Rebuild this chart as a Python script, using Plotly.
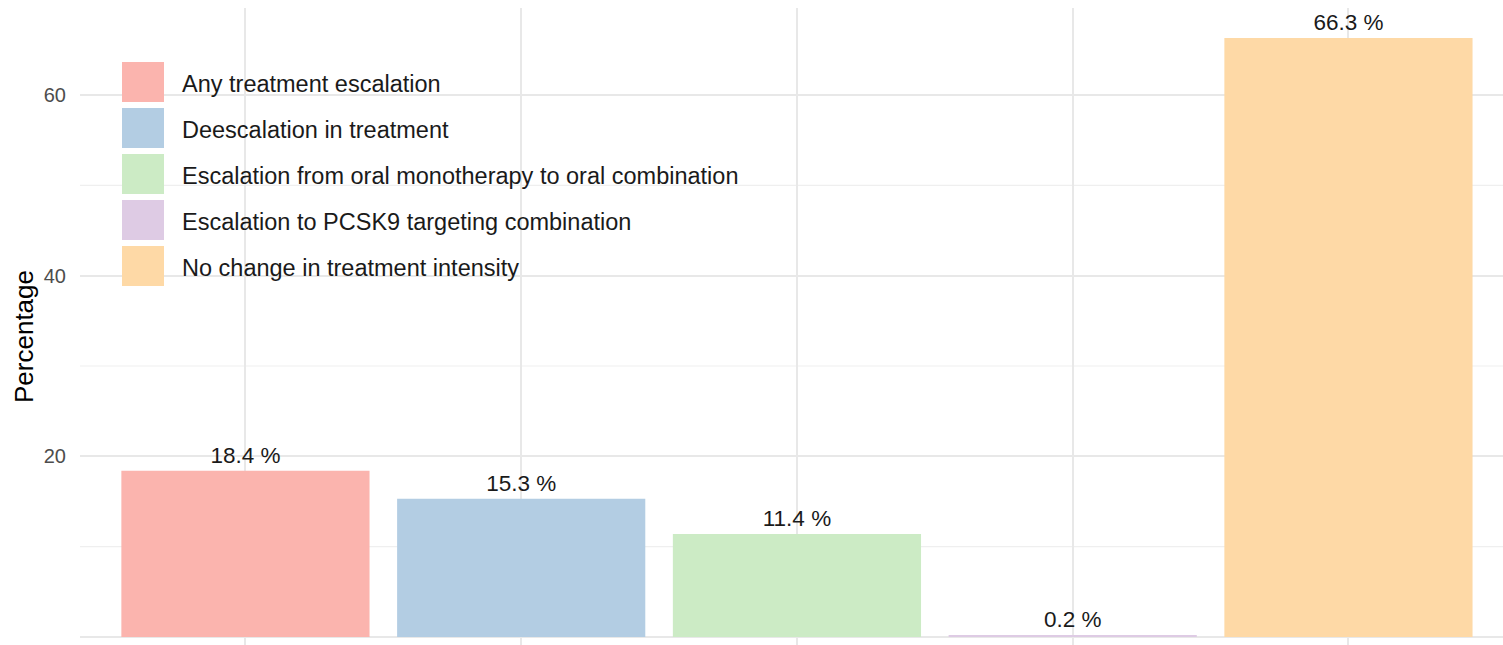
import plotly.graph_objects as go

categories = [
    "Any treatment escalation",
    "Deescalation in treatment",
    "Escalation from oral monotherapy to oral combination",
    "Escalation to PCSK9 targeting combination",
    "No change in treatment intensity",
]
percentages = [18.4, 15.3, 11.4, 0.2, 66.3]
colors = ["#FBB4AE", "#B3CDE3", "#CCEBC5", "#DECBE4", "#FED9A6"]
y_ticks = [0, 20, 40, 60]

W, H = 1503, 645
ML, MR, MT, MB = 80, 0, 8, 0
FONT = "Liberation Sans, Arial, sans-serif"

x_pos = list(range(1, len(categories) + 1))

fig = go.Figure()
fig.add_trace(go.Bar(
    x=x_pos,
    y=percentages,
    width=0.9,
    marker=dict(color=colors, line=dict(width=0)),
    text=[f"{v} %" for v in percentages],
    textposition="outside",
    textfont=dict(family=FONT, size=22.5, color="#1a1a1a"),
    cliponaxis=False,
    constraintext="none",
    showlegend=False,
    hoverinfo="skip",
))

# Minor horizontal gridlines
for yv in [10, 30, 50]:
    fig.add_shape(type="line", xref="paper", yref="y", x0=0, x1=1, y0=yv, y1=yv,
                  line=dict(color="#efefef", width=1.2), layer="below")

# Legend drawn inside the panel (large ggplot-style keys)
plot_w = W - ML - MR
plot_h = H - MT - MB
def px_to_paper_x(px):
    return (px - ML) / plot_w
def px_to_paper_y(py):
    return 1 - (py - MT) / plot_h

key_x0, key_x1 = 122, 164
row_top0, row_h, row_gap = 62, 40, 46
for i, (lab, col) in enumerate(zip(categories, colors)):
    top = row_top0 + i * row_gap
    fig.add_shape(type="rect", xref="paper", yref="paper",
                  x0=px_to_paper_x(key_x0), x1=px_to_paper_x(key_x1),
                  y0=px_to_paper_y(top + row_h), y1=px_to_paper_y(top),
                  fillcolor=col, line=dict(width=0), layer="above")
    fig.add_annotation(xref="paper", yref="paper",
                       x=px_to_paper_x(180), y=px_to_paper_y(top + row_h / 2 + 2),
                       text=lab, showarrow=False, xanchor="left", yanchor="middle",
                       font=dict(family=FONT, size=23.5, color="#1a1a1a"))

# Y-axis title
fig.add_annotation(xref="paper", yref="paper",
                   x=px_to_paper_x(24), y=px_to_paper_y(337),
                   text="Percentage", textangle=-90, showarrow=False,
                   xanchor="center", yanchor="middle",
                   font=dict(family=FONT, size=26, color="#000000"))

fig.update_layout(
    width=W, height=H,
    margin=dict(l=ML, r=MR, t=MT, b=MB, pad=0),
    paper_bgcolor="white", plot_bgcolor="white",
    bargap=0.1,
    font=dict(family=FONT),
    xaxis=dict(
        range=[0.4, 0.4 + (W - ML - MR) / 275.75],
        tickvals=x_pos, ticktext=[""] * len(x_pos),
        showgrid=True, gridcolor="#e8e8e8", gridwidth=2,
        zeroline=False, showline=False, ticks="",
    ),
    yaxis=dict(
        range=[-(645 - 637) / 9.033, (637 - 8) / 9.033],
        tickvals=y_ticks,
        tickfont=dict(family=FONT, size=20, color="#4d4d4d"),
        showgrid=True, gridcolor="#e8e8e8", gridwidth=2,
        zeroline=False, showline=False, ticks="",
        ticklabelstandoff=13,
    ),
)

fig.write_html("out.html")
